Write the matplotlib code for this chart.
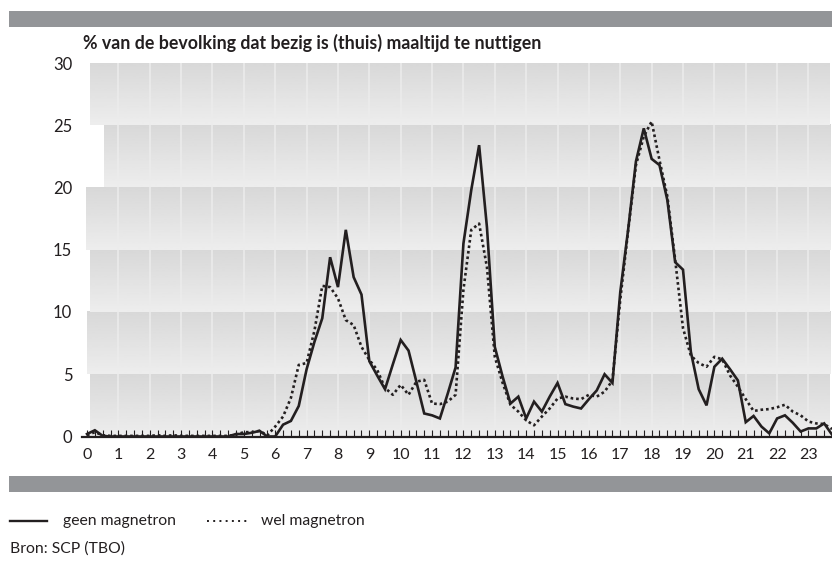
import numpy as np
import matplotlib
matplotlib.use("Agg")
import matplotlib.pyplot as plt
from matplotlib.patches import Rectangle
from matplotlib.lines import Line2D

plt.rcParams['font.family'] = ['Lato', 'DejaVu Sans']

# ---- data: share of population eating a meal (at home), per quarter hour ----
quarter_hours = np.arange(96) / 4.0
geen_magnetron = [
    0.2, 0.5, 0.05, 0.0,
    0.0, 0.0, 0.0, 0.0,
    0.0, 0.0, 0.0, 0.0,
    0.0, 0.0, 0.0, 0.0,
    0.0, 0.0, 0.0, 0.2,
    0.2, 0.3, 0.45, 0.0,
    0.0, 0.95, 1.25, 2.45,
    5.4, 7.6, 9.5, 14.4,
    12.0, 16.6, 12.8, 11.4,
    6.05, 4.9, 3.8, 5.8,
    7.75, 6.9, 4.4, 1.85,
    1.7, 1.45, 3.45, 5.55,
    15.5, 19.8, 23.4, 16.8,
    7.2, 4.8, 2.65, 3.2,
    1.45, 2.8, 2.0, 3.2,
    4.3, 2.6, 2.4, 2.25,
    3.0, 3.7, 5.0, 4.3,
    11.6, 16.6, 22.1, 24.75,
    22.3, 21.8, 19.0, 14.0,
    13.4, 6.8, 3.8, 2.5,
    5.6, 6.25, 5.4, 4.5,
    1.15, 1.65, 0.8, 0.25,
    1.45, 1.7, 1.1, 0.4,
    0.65, 0.65, 1.05, 0.15,
]
wel_magnetron = [
    0.1, 0.35, 0.1, 0.05,
    0.05, 0.05, 0.05, 0.05,
    0.05, 0.1, 0.05, 0.1,
    0.05, 0.05, 0.05, 0.05,
    0.05, 0.05, 0.05, 0.15,
    0.35, 0.35, 0.45, 0.1,
    0.8, 1.6, 3.1, 5.75,
    5.9, 8.5, 12.1, 12.0,
    11.1, 9.35, 8.95, 7.2,
    6.15, 5.35, 3.9, 3.35,
    4.15, 3.35, 4.4, 4.55,
    2.65, 2.6, 2.8, 3.35,
    11.8, 16.6, 17.1, 13.6,
    6.4, 4.3, 2.55, 2.0,
    1.3, 0.9, 1.6, 2.25,
    3.05, 3.2, 3.05, 3.0,
    3.35, 3.2, 3.6, 4.5,
    11.0, 16.5, 21.8, 24.1,
    25.3, 22.2, 19.3, 14.2,
    8.7, 6.5, 5.9, 5.6,
    6.4, 6.2, 4.9, 4.0,
    3.0, 2.05, 2.15, 2.2,
    2.35, 2.55, 2.0, 1.7,
    1.2, 1.05, 1.0, 0.6,
]
hour_labels = [str(h) for h in range(24)]
y_ticks = [0, 5, 10, 15, 20, 25, 30]
title = "% van de bevolking dat bezig is (thuis) maaltijd te nuttigen"
legend_labels = ["geen magnetron", "wel magnetron"]
source = "Bron: SCP (TBO)"

# ---- layout ----
W, H = 832, 561
INK = '#231f20'
fig = plt.figure(figsize=(W / 100, H / 100), dpi=100)


def fx(px):
    return px / W


def fy(py):
    return 1 - py / H


# grey header / footer bars
for top, bot in [(11, 27), (476, 492)]:
    fig.patches.append(Rectangle((fx(9), fy(bot)), fx(832) - fx(9), (bot - top) / H,
                                 transform=fig.transFigure, facecolor='#939598',
                                 edgecolor='none', zorder=0))

XMIN, XMAX = -0.16, 23.69
ax = fig.add_axes([fx(82), fy(436.5), fx(832) - fx(82), (436.5 - 63) / H])
ax.set_facecolor('none')

# gradient bands behind the plot
band_left = [0.1, 0.0, 0.1, -0.03, 0.54, 0.1]
grad = np.linspace(0.845, 0.93, 64)[:, None]
for k, left in enumerate(band_left):
    ax.imshow(grad, extent=(left, XMAX, 5 * k, 5 * k + 5), origin='upper',
              cmap='gray', vmin=0, vmax=1, aspect='auto',
              interpolation='bilinear', zorder=0)

for h in range(1, 24):
    ax.axvline(h, color='#ececec', lw=1.1, zorder=1)

ax.plot(quarter_hours, geen_magnetron, color=INK, lw=1.9,
        solid_joinstyle='miter', zorder=4, clip_on=False)
ax.plot(quarter_hours, wel_magnetron, color=INK, lw=1.9,
        linestyle=(0, (1, 1.1)), dash_capstyle='butt', zorder=3, clip_on=False)

ax.set_xlim(XMIN, XMAX)
ax.set_ylim(0, 30)

for s in ['top', 'right', 'left']:
    ax.spines[s].set_visible(False)
ax.spines['bottom'].set_color(INK)
ax.spines['bottom'].set_linewidth(1.6)
ax.spines['bottom'].set_zorder(5)

ax.set_xticks(range(24))
ax.set_xticklabels(hour_labels)
ax.set_xticks(quarter_hours, minor=True)
ax.tick_params(axis='x', which='both', direction='in', length=5, width=0.8,
               color=INK)
ax.tick_params(axis='x', which='major', pad=8, labelsize=11.5, labelcolor=INK)

ax.set_yticks(y_ticks)
ax.set_yticklabels([str(v) for v in y_ticks])
ax.tick_params(axis='y', length=0, pad=7, labelsize=12, labelcolor=INK)

# title
fig.text(fx(83), fy(43), title, fontsize=12.8, fontweight='bold', color=INK,
         ha='left', va='center')

# legend
fig.lines.append(Line2D([fx(10), fx(47)], [fy(521)] * 2, transform=fig.transFigure,
                        color=INK, lw=1.7))
fig.lines.append(Line2D([fx(207), fx(247)], [fy(521)] * 2, transform=fig.transFigure,
                        color=INK, lw=1.4, linestyle=(0, (1, 2.2)),
                        dash_capstyle='butt'))
fig.text(fx(63), fy(521), legend_labels[0], fontsize=11.3, color=INK,
         ha='left', va='center')
fig.text(fx(261), fy(521), legend_labels[1], fontsize=11.3, color=INK,
         ha='left', va='center')
fig.text(fx(10), fy(549), source, fontsize=11.3, color=INK,
         ha='left', va='center')

fig.savefig('out.png', dpi=100)
